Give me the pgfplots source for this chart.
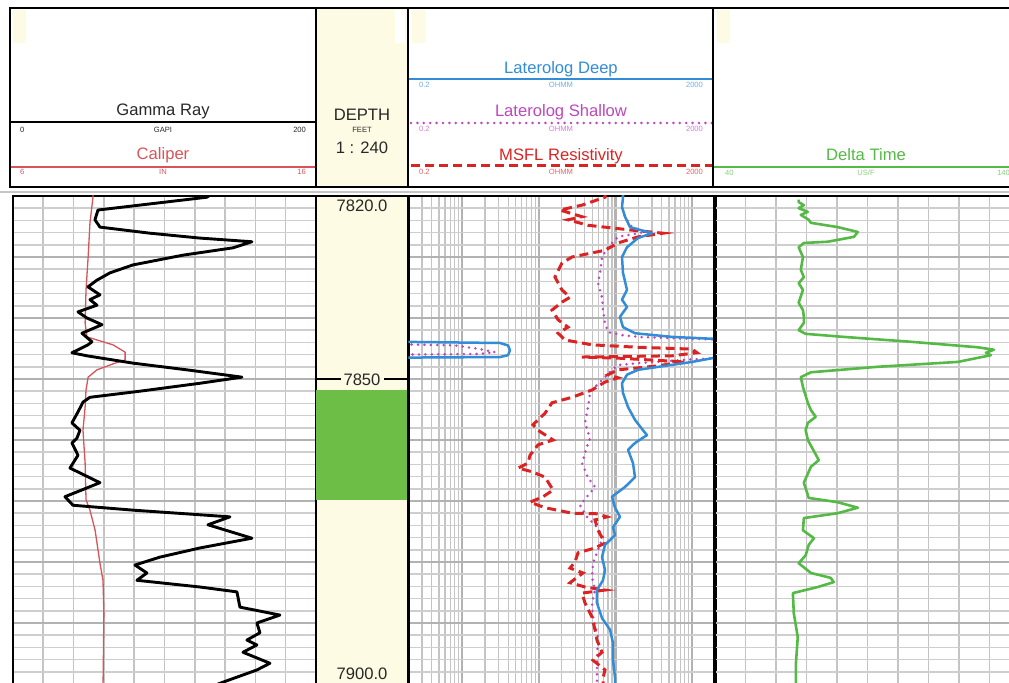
\documentclass[border=0pt]{standalone}
\usepackage{pgfplots}
\pgfplotsset{compat=1.18}
\usepackage{fontspec}
\setmainfont{Liberation Sans}
\definecolor{calcol}{RGB}{215,85,90}
\definecolor{lldcol}{RGB}{50,140,215}
\definecolor{llscol}{RGB}{190,70,190}
\definecolor{msflcol}{RGB}{220,35,35}
\definecolor{dtcol}{RGB}{85,185,70}
\definecolor{cream}{RGB}{254,251,228}
\definecolor{zonegreen}{RGB}{108,190,70}
\definecolor{gridminor}{RGB}{206,206,206}
\definecolor{gridmajor}{RGB}{178,178,178}
\definecolor{gridv}{RGB}{196,196,196}
\definecolor{txt}{RGB}{40,40,40}
\newcommand\bigf{\fontsize{8.3}{9.8}\selectfont}
\newcommand\smallf{\fontsize{3.8}{4.5}\selectfont}
\pgfplotsset{
 logtrack/.style={
   scale only axis, anchor=north west, height=244pt,
   ymin=7820, ymax=7900, y dir=reverse,
   axis line style={line width=1.4pt, black},
   ytick={7820,7830,...,7900},
   minor ytick={7822,7824,...,7898},
   xticklabels={}, yticklabels={},
   tick style={draw=none},
   grid=both,
   major y grid style={gridmajor, line width=1.2pt},
   minor y grid style={gridminor, line width=0.75pt},
   major x grid style={gridv, line width=0.8pt},
   minor x grid style={gridv, line width=0.6pt},
 }
}
\begin{document}
\begin{tikzpicture}
\useasboundingbox (0,0) rectangle (504.5pt,341.5pt);
\clip (0,0) rectangle (504.5pt,341.5pt);

% ---------------- Track 1: Gamma Ray + Caliper
\begin{axis}[logtrack, at={(6.5pt,243.5pt)}, width=151.5pt,
  xmin=0, xmax=200, xtick={0,20,...,200}]
\addplot[calcol, line width=0.65pt, line join=round] table[x expr={(\thisrowno{0}-6)*20}, y index=1] {
8.64 7819.0
8.64 7820.2
8.54 7824.4
8.48 7830.0
8.41 7835.4
8.38 7840.8
8.44 7843.1
8.77 7843.6
9.30 7844.4
9.70 7845.6
9.70 7846.9
9.37 7847.4
8.77 7848.5
8.48 7849.7
8.41 7851.8
8.38 7854.6
8.31 7858.4
8.38 7863.8
8.41 7869.8
8.54 7871.5
8.71 7874.8
8.87 7880.2
8.97 7883.0
9.00 7888.4
8.97 7901
};
\addplot[black, line width=1.45pt, line join=round] table {
135.0 7819.0
128.0 7820.2
56.1 7822.3
54.1 7823.9
57.4 7825.1
90.4 7826.1
123.4 7826.9
157.7 7827.5
145.2 7828.5
112.2 7829.7
79.2 7831.3
64.0 7832.6
55.4 7833.8
49.5 7834.9
57.4 7836.2
50.8 7837.0
55.4 7837.9
42.9 7839.0
48.8 7840.0
58.7 7841.1
45.5 7842.5
52.1 7843.9
49.5 7844.4
38.9 7845.7
48.8 7846.2
79.2 7847.4
114.8 7848.5
151.1 7849.7
123.4 7850.7
83.8 7852.0
50.8 7853.0
46.2 7853.8
42.9 7855.4
38.9 7857.2
44.2 7858.4
42.2 7859.7
38.9 7860.5
42.9 7862.5
37.6 7864.6
57.4 7867.0
34.3 7869.3
39.6 7870.7
79.2 7871.5
143.2 7872.6
128.7 7873.9
157.7 7876.1
123.4 7877.7
97.0 7879.2
80.5 7880.5
88.4 7881.8
81.8 7883.0
123.4 7884.1
147.8 7884.9
149.8 7887.4
176.2 7888.7
161.0 7890.0
163.0 7891.6
154.4 7892.8
161.0 7893.6
151.8 7894.8
169.6 7896.6
161.0 7897.7
138.6 7899.7
125.0 7901.0
};
\end{axis}

% ---------------- Depth track
\begin{axis}[scale only axis, anchor=north west, at={(158pt,243.5pt)},
  width=46pt, height=244pt, xmin=0, xmax=1, ymin=7820, ymax=7900, y dir=reverse,
  axis line style={line width=1.4pt, black}, ticks=none,
  axis background/.style={fill=cream}]
\addplot[fill=zonegreen, draw=none] coordinates {(0,7851.8) (1,7851.8) (1,7869.9) (0,7869.9)} -- cycle;
\node[anchor=base, font=\bigf, text=txt] at (axis cs:0.5,7822.6) {7820.0};
\node[anchor=base, font=\bigf, text=txt] at (axis cs:0.5,7851.0) {7850};
\node[anchor=base, font=\bigf, text=txt] at (axis cs:0.5,7899.3) {7900.0};
\draw[line width=1.2pt] (axis cs:0,7850) -- (axis cs:0.27,7850);
\draw[line width=1.2pt] (axis cs:0.74,7850) -- (axis cs:1,7850);
\end{axis}

% ---------------- Resistivity track
\begin{axis}[logtrack, at={(204.2pt,243.5pt)}, width=153.4pt,
  xmode=log, xmin=0.2, xmax=2000, xtick={1,10,100,1000},
  minor xtick={0.3,0.4,0.5,0.6,0.7,0.8,0.9,2,3,4,5,6,7,8,9,20,30,40,50,60,70,80,90,200,300,400,500,600,700,800,900},
  major x grid style={gridmajor, line width=1.2pt}]
% Laterolog Shallow
\addplot[llscol, line width=1.4pt, line cap=round, dash pattern=on 0pt off 3.2pt] table {
125.6 7819.0
121.9 7821.8
133.4 7823.4
164.6 7825.1
243 7825.9
108.1 7826.7
80.1 7828.4
66.9 7830.0
63.0 7832.6
59.3 7834.3
66.9 7836.6
68.9 7838.7
73.2 7840.8
80.1 7842.3
121.9 7842.8
197 7843.1
939 7843.4
3000 7843.6
};
\addplot[llscol, line width=1.4pt, line cap=round, dash pattern=on 0pt off 3.2pt] table {
0.15 7844.3
0.81 7844.5
1.72 7845.1
2.69 7845.6
1.72 7845.9
0.15 7846.0
};
\addplot[llscol, line width=1.4pt, line cap=round, dash pattern=on 0pt off 3.2pt] table {
3000 7846.5
939 7846.8
197 7847.4
108.1 7847.7
90.3 7848.5
73.2 7849.7
54.2 7851.3
46.6 7852.3
43.9 7854.6
40.1 7857.2
46.6 7859.7
42.6 7861.1
36.7 7863.8
43.9 7866.2
54.2 7867.7
42.6 7869.3
34.5 7870.7
42.6 7872.6
57.5 7874.3
68.9 7875.9
59.3 7878.0
51.0 7880.2
49.5 7882.5
54.2 7884.6
49.5 7886.7
51.0 7889.0
59.3 7892.3
57.5 7895.6
57.5 7898.9
57.5 7901
};
% MSFL
\addplot[msflcol, line width=1.5pt, dash pattern=on 4.5pt off 2.5pt] table {
73.2 7819.0
73.2 7820.2
36.7 7821.5
18.9 7822.3
36.7 7823.4
24.1 7823.9
43.9 7824.8
164.6 7825.6
417.5 7826.1
197 7826.7
108.1 7827.7
73.2 7828.9
27.2 7830.0
20.1 7831.0
16.3 7833.3
20.1 7835.4
25.6 7836.6
20.1 7837.4
14.9 7838.7
17.9 7840.3
24.1 7841.5
17.9 7842.5
22.0 7843.6
49.5 7844.4
197 7844.8
1000 7845.1
1159 7845.7
547 7846.2
36.7 7846.4
114.8 7846.6
808 7847.2
328 7847.9
108.1 7848.5
80.1 7849.3
108.1 7849.8
73.2 7850.5
49.5 7851.8
27.2 7853.0
14.9 7853.9
12.1 7855.6
8.43 7857.5
9.79 7858.4
15.4 7860.0
9.79 7860.8
7.70 7862.5
7.25 7863.8
5.37 7864.6
8.18 7865.2
12.1 7866.1
15.4 7868.2
11.4 7869.3
7.70 7870.2
12.1 7871.1
27.2 7872.0
59.3 7872.1
77.7 7872.6
54.2 7873.1
59.3 7874.8
73.2 7876.9
54.2 7877.7
32.5 7878.5
29.7 7880.0
25.6 7881.0
37.8 7881.8
25.6 7883.4
40.1 7884.1
73.2 7884.6
36.7 7885.1
40.1 7886.7
49.5 7889.0
54.2 7891.1
57.5 7892.8
66.9 7894.8
51.0 7896.1
73.2 7897.7
68.9 7899.0
70 7901
};
% Laterolog Deep
\addplot[lldcol, line width=1.25pt, line join=round] table {
125.6 7819.0
125.6 7820.2
121.9 7821.8
133.4 7823.4
155.0 7825.1
300 7826.1
197 7826.9
141.6 7828.4
121.9 7830.0
125.6 7832.6
141.6 7835.4
121.9 7837.0
141.6 7838.2
114.8 7839.8
125.6 7841.5
180.2 7842.5
547 7843.1
1817 7843.4
3000 7843.5
};
\addplot[lldcol, line width=1.25pt, line join=round] table {
0.15 7843.9
3.13 7844.1
3.98 7844.5
4.22 7845.3
3.98 7846.1
3.13 7846.4
0.15 7846.5
};
\addplot[lldcol, line width=1.25pt, line join=round] table {
3000 7846.5
1817 7846.6
1000 7847.2
197 7848.5
141.6 7849.3
121.9 7850.7
125.6 7852.3
146 7854.6
180 7856.7
229 7858.4
258 7859.2
180 7860.5
146 7861.6
169.6 7863.8
180 7866.1
133.4 7867.7
90.3 7869.3
98.8 7871.1
114.8 7872.6
93.0 7874.3
98.8 7875.6
73.2 7877.2
66.9 7879.2
73.2 7881.3
68.9 7883.0
57.5 7884.6
57.5 7886.7
66.9 7889.2
85.1 7891.1
93.0 7893.3
93.0 7896.1
98.8 7898.9
100 7901
};
\end{axis}

% ---------------- Delta Time track
\begin{axis}[logtrack, at={(357.4pt,243.5pt)}, width=152.5pt,
  xmin=40, xmax=140, xtick={40,50,...,140}]
\addplot[dtcol, line width=1.3pt, line join=round] table {
67.5 7820.6
67.5 7821.0
69.2 7821.5
67.5 7822.0
70.5 7822.6
68.2 7823.1
70.8 7823.9
71.5 7824.4
80.3 7825.1
86.9 7825.9
85.6 7826.7
77.0 7827.5
69.2 7827.7
67.5 7828.4
68.9 7830.0
68.2 7832.1
69.2 7833.3
67.5 7834.3
68.9 7835.4
67.5 7837.5
68.9 7838.7
69.2 7839.8
69.2 7840.8
67.5 7842.0
69.8 7842.6
82.3 7843.1
104.3 7843.9
126.2 7844.8
131.5 7845.2
128.9 7845.7
130.5 7846.1
119.7 7847.2
93.4 7848.0
71.5 7848.9
68.2 7849.7
68.9 7851.3
70.5 7853.9
71.5 7855.1
73.1 7856.2
70.5 7857.2
69.8 7858.4
70.5 7860.0
74.1 7863.3
71.5 7864.4
69.2 7867.0
70.8 7869.5
80.3 7870.2
86.9 7871.1
80.3 7872.0
69.2 7872.8
68.9 7874.8
72.5 7876.1
70.8 7877.2
69.8 7878.9
67.5 7880.2
71.5 7881.8
78.0 7882.6
79.0 7883.3
73.8 7884.1
65.6 7885.1
65.9 7888.4
67.2 7892.3
66.6 7896.6
66.6 7901
};
\end{axis}

% ---------------- Header
\begin{scope}[x=0.5pt,y=-0.5pt,shift={(0pt,341.5pt)}]
\fill[cream] (316,8) rectangle (408,187);
\fill[white] (395,10) rectangle (405,43);
\fill[cream] (13,10) rectangle (26,43);
\fill[cream] (412,10) rectangle (425,43);
\fill[cream] (717,10) rectangle (730,43);
\draw[gray!45, line width=0.8pt] (0,192) -- (1009,192);
% Gamma ray header
\draw[line width=1pt] (10,122) -- (316,122);
\node[anchor=base, font=\bigf, text=txt] at (163,116) {Gamma Ray};
\node[anchor=base west, font=\smallf, text=txt] at (13,133) {0};
\node[anchor=base, font=\smallf, text=txt] at (163,133) {GAPI};
\node[anchor=base east, font=\smallf, text=txt] at (313,133) {200};
\node[anchor=base, font=\bigf, text=calcol] at (163,160) {Caliper};
\draw[calcol, line width=0.8pt] (10,167) -- (316,167);
\node[anchor=base west, font=\smallf, text=calcol] at (13,175) {6};
\node[anchor=base, font=\smallf, text=calcol] at (163,175) {IN};
\node[anchor=base east, font=\smallf, text=calcol] at (313,175) {16};
% depth header
\node[anchor=base, font=\bigf, text=txt] at (362,121) {DEPTH};
\node[anchor=base, font=\smallf, text=txt] at (362,133) {FEET};
\node[anchor=base, font=\bigf, text=txt] at (362,154) {1 : 240};
% resistivity header
\node[anchor=base, font=\bigf, text=lldcol] at (561,74) {Laterolog Deep};
\draw[lldcol, line width=1.1pt] (408,79) -- (713,79);
\node[anchor=base west, font=\smallf, text=lldcol!70] at (412,88) {0.2};
\node[anchor=base, font=\smallf, text=lldcol!70] at (561,88) {OHMM};
\node[anchor=base east, font=\smallf, text=lldcol!70] at (710,88) {2000};
\node[anchor=base, font=\bigf, text=llscol] at (561,117) {Laterolog Shallow};
\draw[llscol, line width=1.4pt, line cap=round, dash pattern=on 0pt off 3.2pt] (411,123) -- (712,123);
\node[anchor=base west, font=\smallf, text=llscol!70] at (412,132) {0.2};
\node[anchor=base, font=\smallf, text=llscol!70] at (561,132) {OHMM};
\node[anchor=base east, font=\smallf, text=llscol!70] at (710,132) {2000};
\node[anchor=base, font=\bigf, text=msflcol] at (561,161) {MSFL Resistivity};
\draw[msflcol, line width=1.5pt, dash pattern=on 4.5pt off 2.5pt] (411,166) -- (712,166);
\node[anchor=base west, font=\smallf, text=msflcol!70] at (412,175) {0.2};
\node[anchor=base, font=\smallf, text=msflcol!70] at (561,175) {OHMM};
\node[anchor=base east, font=\smallf, text=msflcol!70] at (710,175) {2000};
% delta time header
\node[anchor=base, font=\bigf, text=dtcol] at (866,161) {Delta Time};
\draw[dtcol, line width=1.1pt] (713,167) -- (1009,167);
\node[anchor=base west, font=\smallf, text=dtcol!70] at (718,176) {40};
\node[anchor=base, font=\smallf, text=dtcol!70] at (866,176) {US/F};
\node[anchor=base east, font=\smallf, text=dtcol!70] at (1017,176) {140};
% frames
\draw[line width=1.4pt] (10,8) rectangle (1016,187);
\draw[line width=1.4pt] (316,8) -- (316,187) (408,8) -- (408,187) (713,8) -- (713,187);
\end{scope}
\end{tikzpicture}
\end{document}
